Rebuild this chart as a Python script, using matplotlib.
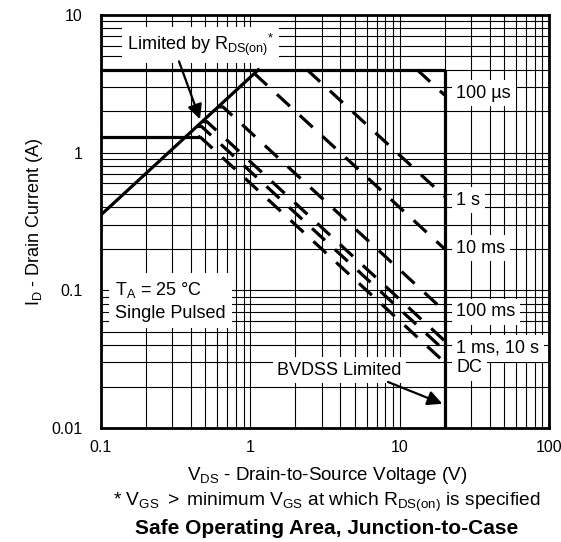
import matplotlib
matplotlib.use('Agg')
import matplotlib.pyplot as plt
from matplotlib.ticker import FixedLocator, LogLocator, NullFormatter

plt.rcParams['font.family'] = ['Liberation Sans', 'DejaVu Sans']
plt.rcParams['mathtext.fontset'] = 'custom'
plt.rcParams['mathtext.rm'] = 'Liberation Sans'
plt.rcParams['mathtext.it'] = 'Liberation Sans:italic'
plt.rcParams['mathtext.bf'] = 'Liberation Sans:bold'
plt.rcParams['mathtext.default'] = 'regular'

# ---------------- data ----------------
v_min = 0.1
rds_on = 0.283          # ohm  (R_DS(on) limit line)
id_max = 4.0            # A    (current limit)
id_dc_flat = 1.31       # A    (DC flat part)
v_dc_knee = 0.46        # V
bvdss = 20.0            # V

# pulse lines: start point and current at BVDSS
dash_v_start = [13.1, 2.4, 1.06, 0.608, 0.475, 0.439, 0.46]
dash_i_start = [4.0, 4.0, 3.76, 2.15, 1.68, 1.55, 1.31]
dash_i_end = [2.62, 0.48, 0.20, 0.0705, 0.043, 0.0365, 0.0300]

pulse_labels = ['100 µs', '1 s', '10 ms', '100 ms', '1 ms, 10 s', 'DC']
pulse_label_y = [2.71, 0.453, 0.203, 0.0697, 0.0378, 0.0275]

x_ticks = [0.1, 1, 10, 100]
x_tick_labels = ['0.1', '1', '10', '100']
y_ticks = [0.01, 0.1, 1, 10]
y_tick_labels = ['0.01', '0.1', '1', '10']

# ---------------- figure ----------------
fig = plt.figure(figsize=(5.61, 5.42), dpi=100)
ax = fig.add_axes([101/561, 1-428/542, 448/561, 413/542])
ax.set_xscale('log')
ax.set_yscale('log')
ax.set_xlim(0.1, 100)
ax.set_ylim(0.01, 10)

ax.xaxis.set_major_locator(FixedLocator(x_ticks))
ax.yaxis.set_major_locator(FixedLocator(y_ticks))
ax.set_xticklabels(x_tick_labels)
ax.set_yticklabels(y_tick_labels)
ax.xaxis.set_minor_locator(LogLocator(base=10, subs=range(2, 10), numticks=20))
ax.yaxis.set_minor_locator(LogLocator(base=10, subs=range(2, 10), numticks=20))
ax.xaxis.set_minor_formatter(NullFormatter())
ax.yaxis.set_minor_formatter(NullFormatter())
ax.tick_params(which='both', length=0, labelsize=11.5)
ax.tick_params(axis='x', pad=9)
ax.tick_params(axis='y', pad=13)
ax.grid(which='both', color='black', lw=0.8)
ax.set_axisbelow(True)
for s in ax.spines.values():
    s.set_linewidth(2)

lw = 2.3
# current limit line
ax.plot([v_min, bvdss], [id_max, id_max], color='black', lw=lw, solid_capstyle='butt')
# Rds(on) limit line
ax.plot([v_min, id_max * rds_on], [v_min / rds_on, id_max], color='black', lw=lw)
# DC flat part
ax.plot([v_min, v_dc_knee], [id_dc_flat, id_dc_flat], color='black', lw=lw, solid_capstyle='butt')
# BVDSS limit
ax.plot([bvdss, bvdss], [0.01, id_max], color='black', lw=lw, solid_capstyle='butt')

# pulse lines
for vs, i0, ie in zip(dash_v_start, dash_i_start, dash_i_end):
    p = bvdss * ie
    knee = p / i0
    ax.plot([vs, knee, bvdss], [i0, i0, ie], color='black', lw=lw,
            dashes=(5.5, 4.2), dash_capstyle='butt')

box = dict(boxstyle='square,pad=0.25', fc='white', ec='none')
fs = 13
for lab, yy in zip(pulse_labels, pulse_label_y):
    ax.text(24.0, yy, lab, fontsize=fs, ha='left', va='center', bbox=box, zorder=5)

ax.text(0.149, 5.57, r'Limited by $R_{DS(on)}$$^{*}$', fontsize=fs, ha='left',
        va='baseline', bbox=box, zorder=5)
ax.annotate('', xy=(0.46, 1.75), xytext=(0.333, 4.6),
            arrowprops=dict(arrowstyle='-|>', color='black', lw=1.6, mutation_scale=22,
                            shrinkA=0, shrinkB=0), zorder=6)

ax.text(1.51, 0.0243, 'BVDSS Limited', fontsize=fs, ha='left', va='baseline',
        bbox=box, zorder=5)
ax.annotate('', xy=(19.3, 0.015), xytext=(8.35, 0.0216),
            arrowprops=dict(arrowstyle='-|>', color='black', lw=1.6, mutation_scale=22,
                            shrinkA=0, shrinkB=0), zorder=6)

ax.text(0.124, 0.063, r'$T_A$ = 25 °C' + '\nSingle Pulsed', fontsize=fs, ha='left',
        va='baseline', linespacing=1.35, bbox=dict(boxstyle='square,pad=0.35', fc='white', ec='none'),
        zorder=5)

ax.set_ylabel(r'$I_D$ - Drain Current (A)', fontsize=13, labelpad=5)

cx = 0.583
fig.text(cx, 1 - 476/542, r'$V_{DS}$ - Drain-to-Source Voltage (V)', fontsize=13.5,
         ha='center', va='center')
fig.text(cx, 1 - 502/542, r'* $V_{GS}$ $>$ minimum $V_{GS}$ at which $R_{DS(on)}$ is specified',
         fontsize=13.8, ha='center', va='center')
fig.text(cx, 1 - 528/542, 'Safe Operating Area, Junction-to-Case', fontsize=15,
         fontweight='bold', ha='center', va='center')

fig.savefig('out.png', dpi=100)
